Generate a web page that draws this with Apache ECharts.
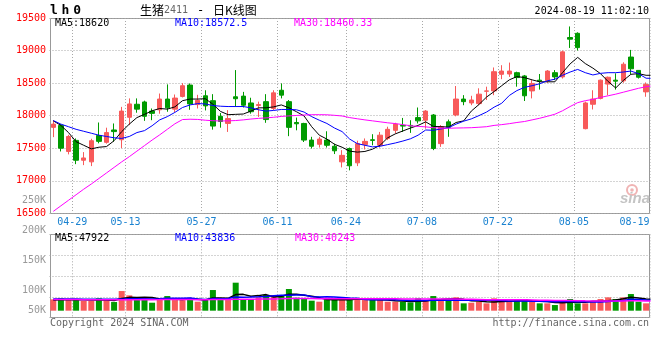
<!DOCTYPE html>
<html><head><meta charset="utf-8">
<script src="https://cdn.jsdelivr.net/npm/echarts@6/dist/echarts.min.js"></script>
<style>html,body{margin:0;padding:0;background:#fff}#c{width:660px;height:360px}</style>
</head><body><div id="c"></div>
<script>
// ---------------- data ----------------
const dates = ['04-24','04-25','04-26','04-29','04-30','05-06','05-07','05-08','05-09','05-10',
'05-13','05-14','05-15','05-16','05-17','05-20','05-21','05-22','05-23','05-24',
'05-27','05-28','05-29','05-30','05-31','06-03','06-04','06-05','06-06','06-07',
'06-11','06-12','06-13','06-14','06-17','06-18','06-19','06-20','06-21','06-24',
'06-25','06-26','06-27','06-28','07-01','07-02','07-03','07-04','07-05','07-08',
'07-09','07-10','07-11','07-12','07-15','07-16','07-17','07-18','07-19','07-22',
'07-23','07-24','07-25','07-26','07-29','07-30','07-31','08-01','08-02','08-05',
'08-06','08-07','08-08','08-09','08-12','08-13','08-14','08-15','08-16','08-19'];
const tickLabels = ['04-29','05-13','05-27','06-11','06-24','07-08','07-22','08-05','08-19'];

const openP = [17820,17850,17450,17620,17315,17290,17695,17590,17780,17630,
17975,18175,18210,18070,18090,18255,18100,18295,18470,18170,
18305,18230,17990,17880,18290,18300,18195,18155,18215,18110,
18390,18215,17895,17880,17625,17560,17625,17530,17290,17495,
17275,17555,17630,17545,17650,17775,17850,17850,17970,17930,
18010,17570,17905,18010,18255,18195,18185,18375,18380,18635,
18640,18660,18610,18380,18545,18535,18660,18595,19200,19265,
17800,18175,18265,18485,18545,18535,18900,18695,18365];
const closeP = [17870,17500,17680,17315,17350,17615,17605,17740,17755,18070,
18180,18100,17990,18035,18255,18120,18270,18460,18180,18235,
18150,17840,17910,17955,18260,18160,18060,18170,17940,18350,
18315,17820,17875,17625,17530,17640,17545,17460,17390,17230,
17570,17605,17620,17700,17790,17870,17840,17840,17920,18070,
17495,17830,17820,18255,18215,18240,18330,18380,18675,18685,
18685,18585,18305,18495,18530,18685,18595,18980,19175,19045,
18195,18255,18545,18590,18530,18790,18720,18590,18480];
const lowP = [17670,17450,17405,17255,17240,17225,17575,17570,17600,17500,
17855,18045,17920,17930,18030,18060,18055,18280,18090,18110,
18080,17785,17815,17750,18135,18125,18030,17980,17890,18085,
18265,17685,17775,17595,17495,17510,17510,17410,17205,17160,
17225,17480,17545,17510,17625,17725,17750,17735,17880,17800,
17470,17520,17675,17990,18160,18160,18160,18240,18315,18560,
18595,18445,18225,18265,18400,18505,18545,18570,19040,19000,
17790,18095,18250,18315,18400,18505,18640,18570,18290];
const highP = [17930,17870,17705,17650,17440,17645,17895,17815,17880,18135,
18265,18265,18230,18110,18340,18480,18325,18500,18495,18320,
18390,18330,18040,18085,18700,18365,18275,18215,18330,18390,
18495,18240,17970,17890,17675,17675,17760,17570,17470,17510,
17615,17650,17715,17750,17830,17890,17965,17930,18125,18085,
18025,17855,17940,18455,18315,18305,18420,18445,18740,18775,
18815,18675,18625,18545,18640,18700,18700,19000,19370,19280,
18215,18390,18555,18600,18650,18820,19010,18700,18510];

const ma5 = [17920,17850,17740,17600,17545,17490,17515,17525,17615,17755,
17870,17970,18020,18075,18110,18100,18135,18230,18255,18255,
18260,18175,18065,18015,18020,18025,18070,18120,18120,18135,
18165,18120,18060,17995,17830,17700,17640,17560,17515,17455,
17440,17450,17485,17545,17660,17720,17765,17810,17850,17905,
17835,17830,17825,17895,17920,18070,18170,18285,18370,18460,
18550,18600,18585,18550,18520,18520,18520,18660,18795,18895,
18800,18730,18645,18525,18425,18540,18635,18645,18620,18620];
const ma10 = [17925,17870,17830,17790,17760,17730,17700,17680,17660,17650,
17680,17740,17770,17845,17935,17985,18050,18125,18165,18185,
18180,18155,18145,18140,18140,18140,18120,18090,18070,18080,
18095,18095,18090,18055,17985,17930,17880,17810,17755,17640,
17570,17545,17520,17530,17555,17580,17610,17645,17700,17780,
17775,17795,17815,17870,17915,17950,18000,18055,18130,18190,
18310,18385,18435,18460,18490,18535,18560,18620,18670,18710,
18660,18625,18650,18660,18660,18670,18685,18645,18575,18572.5];
const ma30 = [16530,16615,16700,16785,16870,16950,17035,17120,17205,17290,
17370,17455,17540,17625,17705,17790,17875,17940,17945,17942,
17930,17922,17918,17920,17925,17935,17948,17958,17966,17975,
17988,17996,18003,18010,18015,18015,18013,18005,17995,17970,
17952,17935,17920,17905,17890,17878,17862,17845,17835,17828,
17815,17808,17806,17810,17812,17815,17822,17830,17850,17862,
17877,17895,17910,17935,17960,17990,18022,18075,18140,18200,
18230,18250,18280,18305,18330,18360,18390,18420,18445,18460.33];

const volume = [47200,51400,44400,44400,40300,40300,51400,44400,36100,81900,
63900,48600,48600,33300,51400,61100,44400,44400,51400,37500,
44400,86100,44400,44400,116700,48600,48600,55600,65300,65300,
65300,90300,54200,48600,41700,37500,51400,48600,48600,44400,
51400,44400,44400,44400,37500,37500,37500,34700,51400,41700,
61100,44400,44400,55600,30600,33300,37500,30600,51400,37500,
37500,44400,48600,37500,30600,30600,23600,44400,48600,30600,
30600,40300,48600,55600,48600,55600,69400,37500,30600];
const volMa5 = [45000,45500,46000,45800,45500,44200,44200,44200,42500,50800,
55500,55000,55800,55300,49200,48600,47800,46900,50500,47800,
44400,52800,52800,51400,67200,68000,60500,62800,67000,56700,
60000,68400,68100,64700,60000,54500,46700,45600,45600,46100,
48900,47500,46600,45800,44400,41600,40300,38300,39700,40600,
45300,46700,48600,49400,47200,41700,40300,37500,36700,38100,
38900,40300,43900,41100,39700,38300,34200,33300,35600,35600,
35600,38900,39700,41100,44700,49700,55600,53300,48300,47922];
const volMa10 = [48500,48400,48300,48200,48000,47800,47600,47500,47400,48200,
49900,49600,50000,48900,50000,52100,51400,51400,52900,48500,
46500,50300,49900,51000,57500,56200,56700,57800,59200,62000,
64000,64500,65500,65900,58400,57300,57600,56900,55200,53100,
51700,47100,46100,45700,45300,45300,43900,42500,42800,42500,
43500,43500,43500,44600,43900,43500,43500,43100,43100,42700,
40300,40300,40700,38900,38900,38600,37300,38600,38400,37700,
37000,36600,36500,38400,40200,42700,47300,46500,44700,43836];
const volMa30 = [46500,46400,46300,46200,46100,46000,45900,45800,45700,45800,
46000,46100,46200,46100,46200,46400,46300,46200,46300,46100,
46000,46500,46400,46300,47800,48000,48100,48300,48800,49200,
49600,50400,50600,50600,50400,50200,50300,50200,50100,50000,
50100,49900,49800,49700,49500,49300,49000,48600,48700,48500,
48400,48300,48200,48300,47700,47200,46600,45900,45900,45600,
45500,45400,45300,44600,43900,43300,42500,42300,42100,41500,
41100,40800,40800,40800,40900,40900,41200,41000,40600,40243];

// ---------------- chart ----------------
const N = dates.length;
const BAND = 7.6;
const UP = '#f85a5a', DOWN = '#009a00';
const MONO = '"DejaVu Sans Mono", "Liberation Mono", monospace';
const GRID_LINE = {color: '#a8a8a8', type: [1, 2], width: 1};
const showTick = (i) => tickLabels.indexOf(dates[i]) >= 0;

const candleData = openP.map((o, i) => [o, closeP[i], lowP[i], highP[i]]);
const volData = volume.map((v, i) => ({value: v, itemStyle: {color: closeP[i] >= openP[i] ? UP : DOWN}}));

function txt(x, y, text, color, extra) {
  return {type: 'text', x: x, y: y, z: 120, silent: true,
    style: Object.assign({text: text, fill: color, font: '10px ' + MONO,
      align: 'left', verticalAlign: 'middle', textAlign: 'left', textVerticalAlign: 'middle'}, extra || {})};
}
const last = (a) => a[a.length - 1];

const chart = echarts.init(document.getElementById('c'), null, {renderer: 'canvas', width: 660, height: 360});
const option = {
  animation: false,
  backgroundColor: '#fff',
  grid: [
    {left: 49.5, top: 18, width: BAND * N, height: 195.3},
    {left: 49.5, top: 234.3, width: BAND * N, height: 83.4},
    {left: 50.5, top: 18.5, width: 599, height: 195, show: true, borderColor: '#999', borderWidth: 1, backgroundColor: 'transparent'},
    {left: 50.5, top: 234.5, width: 599, height: 83, show: true, borderColor: '#999', borderWidth: 1, backgroundColor: 'transparent'},
    {left: 49.5, top: 200.7, width: 600, height: 90},
    {left: 49.5, top: 290.7, width: 600, height: 19.3}
  ],
  xAxis: [
    {gridIndex: 0, type: 'category', data: dates, boundaryGap: true,
      axisLine: {show: false}, axisTick: {show: false},
      axisLabel: {interval: (i) => showTick(i), color: '#1a82d0', fontFamily: MONO, fontSize: 10, margin: 4,
        padding: [0, BAND, 0, 0],
        formatter: (v) => v === dates[N - 1] ? '{e|' + v + '}' : v,
        rich: {e: {padding: [0, 30.8, 0, 0], color: '#1a82d0', fontFamily: MONO, fontSize: 10}}},
      splitLine: {show: true, interval: (i) => showTick(i), lineStyle: GRID_LINE}},
    {gridIndex: 1, type: 'category', data: dates, boundaryGap: true,
      axisLine: {show: false}, axisTick: {show: false}, axisLabel: {show: false},
      splitLine: {show: true, interval: (i) => showTick(i), lineStyle: GRID_LINE}},
    {gridIndex: 2, type: 'value', show: false},
    {gridIndex: 3, type: 'value', show: false},
    {gridIndex: 4, type: 'value', show: false},
    {gridIndex: 5, type: 'value', show: false}
  ],
  yAxis: [
    {gridIndex: 0, type: 'value', min: 16500, max: 19500, interval: 500,
      axisLine: {show: false}, axisTick: {show: false},
      axisLabel: {color: '#ff0000', fontFamily: MONO, fontSize: 10, margin: 3.5, padding: [0, 0, 4, 0],
        formatter: (v) => String(v)},
      splitLine: {show: true, lineStyle: GRID_LINE}},
    {gridIndex: 1, type: 'value', min: -29200, max: 318300, interval: 86875,
      axisLine: {show: false}, axisTick: {show: false}, axisLabel: {show: false},
      splitLine: {show: true, lineStyle: GRID_LINE}},
    {gridIndex: 2, type: 'value', show: false},
    {gridIndex: 3, type: 'value', show: false},
    {gridIndex: 4, type: 'value', min: 100000, max: 250000, interval: 50000,
      axisLine: {show: false}, axisTick: {show: false}, splitLine: {show: false},
      axisLabel: {color: '#999', fontFamily: MONO, fontSize: 10, margin: 3.5, formatter: (v) => (v / 1000) + 'K'}},
    {gridIndex: 5, type: 'value', min: 50000, max: 100000, interval: 50000,
      axisLine: {show: false}, axisTick: {show: false}, splitLine: {show: false},
      axisLabel: {color: '#999', fontFamily: MONO, fontSize: 10, margin: 3.5, showMaxLabel: false,
        formatter: (v) => (v / 1000) + 'K'}}
  ],
  series: [
    {type: 'candlestick', xAxisIndex: 0, yAxisIndex: 0, data: candleData, barWidth: 5,
      itemStyle: {color: UP, color0: DOWN, borderColor: UP, borderColor0: DOWN, borderWidth: 1}},
    {type: 'line', xAxisIndex: 0, yAxisIndex: 0, data: ma5, symbol: 'none', lineStyle: {color: '#000', width: 1}},
    {type: 'line', xAxisIndex: 0, yAxisIndex: 0, data: ma10, symbol: 'none', lineStyle: {color: '#0000ff', width: 1}},
    {type: 'line', xAxisIndex: 0, yAxisIndex: 0, data: ma30, symbol: 'none', lineStyle: {color: '#ff00ff', width: 1}},
    {type: 'bar', xAxisIndex: 1, yAxisIndex: 1, data: volData, barWidth: 6},
    {type: 'line', xAxisIndex: 1, yAxisIndex: 1, data: volMa5, symbol: 'none', lineStyle: {color: '#000', width: 1.5}},
    {type: 'line', xAxisIndex: 1, yAxisIndex: 1, data: volMa10, symbol: 'none', lineStyle: {color: '#0000ff', width: 1.5}},
    {type: 'line', xAxisIndex: 1, yAxisIndex: 1, data: volMa30, symbol: 'none', lineStyle: {color: '#ff00ff', width: 1.5}}
  ],
  graphic: [
    {type: 'rect', z: 100, silent: true, shape: {x: 650.5, y: 0, width: 10, height: 360}, style: {fill: '#fff'}},
    {type: 'text', x: 50, y: 11, z: 120, silent: true, style: {text: '{a|l}{a|h}{a|0}', verticalAlign: 'middle', textVerticalAlign: 'middle',
      rich: {a: {width: 11.6, fontSize: 13, fontWeight: 'bold', fontFamily: MONO, fill: '#000'}}}},
    {type: 'text', x: 140, y: 10.5, z: 120, silent: true, style: {text: '{c|生猪}{g|2411}{d|-}{c|日K线图}', verticalAlign: 'middle', textVerticalAlign: 'middle',
      rich: {c: {fontSize: 12, fontFamily: '"Noto Sans CJK SC"', fill: '#000'},
             g: {fontSize: 10, fontFamily: MONO, fill: '#666'},
             d: {fontSize: 12, fontFamily: MONO, fill: '#000', width: 25, align: 'center'}}}},
    txt(649, 11.5, '2024-08-19 11:02:10', '#000', {align: 'right', textAlign: 'right'}),
    txt(55, 23.3, 'MA5:' + last(ma5), '#000'),
    txt(175, 23.3, 'MA10:' + last(ma10), '#0000ff'),
    txt(294, 23.3, 'MA30:' + last(ma30), '#ff00ff'),
    txt(55, 238.3, 'MA5:' + last(volMa5), '#000'),
    txt(175, 238.3, 'MA10:' + last(volMa10), '#0000ff'),
    txt(295, 238.3, 'MA30:' + last(volMa30), '#ff00ff'),
    txt(50, 323.3, 'Copyright 2024 SINA.COM', '#666'),
    txt(649, 323.3, 'http://finance.sina.com.cn', '#666', {align: 'right', textAlign: 'right'}),
    {type: 'circle', z: 90, silent: true, shape: {cx: 632, cy: 190, r: 5}, style: {fill: 'none', stroke: '#f0b4b4', lineWidth: 2}},
    {type: 'circle', z: 90, silent: true, shape: {cx: 632, cy: 190, r: 1.8}, style: {fill: '#f0b4b4'}},
    {type: 'text', x: 620, y: 199, z: 90, silent: true, style: {text: 'sina', fill: '#c4c4c4',
      font: 'italic bold 15px "Liberation Sans"', verticalAlign: 'middle', textVerticalAlign: 'middle'}}
  ]
};
chart.setOption(option);
</script>
</body></html>
